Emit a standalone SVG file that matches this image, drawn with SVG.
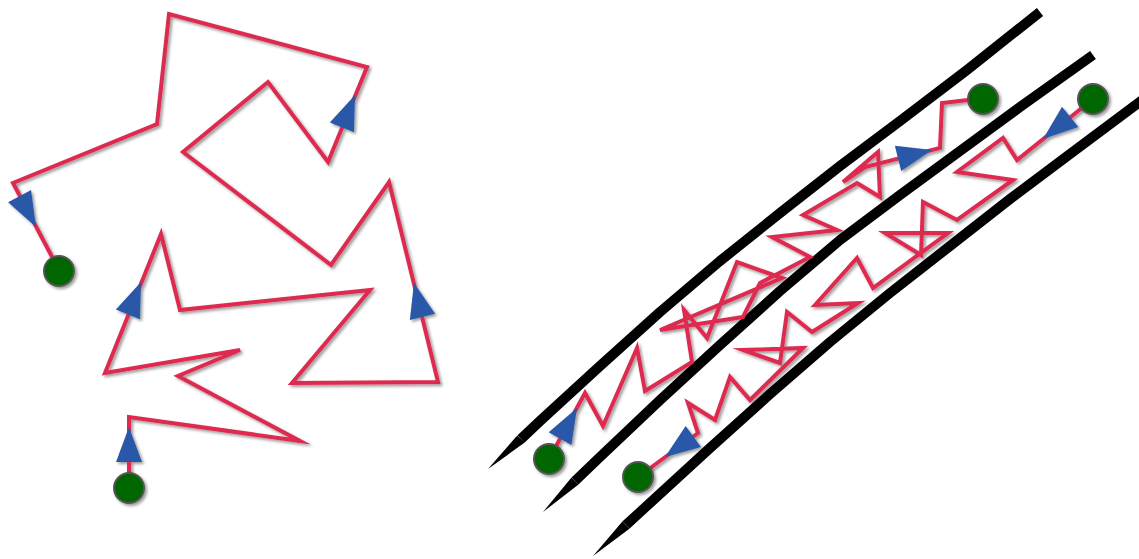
<svg xmlns="http://www.w3.org/2000/svg" xmlns:xlink="http://www.w3.org/1999/xlink" width="1139" height="559" viewBox="0 0 1139 559">
<style>
.walk{fill:none;stroke:#DE2A4F;stroke-width:4;stroke-linejoin:miter;stroke-miterlimit:6}
.wall{fill:none;stroke:#000;stroke-width:10;stroke-linejoin:round;stroke-linecap:butt}
.taper{fill:#000;stroke:none}
.dot{fill:#006600;stroke:#555;stroke-width:2}
.arrow{fill:#2A58A8}
</style>
<defs>
<filter id="sh" x="-20%" y="-20%" width="140%" height="140%">
<feDropShadow dx="2" dy="2" stdDeviation="1.5" flood-color="#000" flood-opacity="0.4"/>
</filter>
<polygon id="arr" points="0,0 -35,-13 -35,13"/>
</defs>
<rect width="1139" height="559" fill="#fff"/>

<g id="walls">
<path class="wall" d="M521,439 L540,421 L600,366 L660,312 L720,261 L780,213 L840,166 L900,121 L967,70 L1040,12"/>
<polygon class="taper" points="488,469 524.7,442.6 517.3,435.4"/>
<path class="wall" d="M575,481 L600,457 L660,400 L720,345 L780,291 L840,240 L900,195 L960,151 L1020,107 L1093,55"/>
<polygon class="taper" points="543,512 578.5,484.6 571.5,477.4"/>
<path class="wall" d="M626,525 L650,503 L710,448 L770,394 L830,342 L890,293 L950,246 L1010,199 L1070,154 L1145,98"/>
<polygon class="taper" points="593,556 629.4,528.7 622.6,521.3"/>
</g>

<g id="connectors" filter="url(#sh)">
<path id="walk-left" class="walk" d="M129,488 L129,417 L300,441 L178,376 L240,350 L105,373 L161,234 L180,310 L370,290 L292,383 L438,382 L389,182 L331,265 L183,152 L268,82 L328,162 L367,67 L169,14 L157,124 L13,183 L59,270"/>
<path id="walk-channel-a" class="walk" d="M549,459 L585,393 L603,426 L637,348 L645,391 L692,362 L684,310 L707,338 L737,262 L782,278 L660,330 L743,317 L760,283 L810,257 L772,237 L837,230 L803,215 L857,183 L880,197 L878,152 L843,182 L865,167 L940,148 L942,103 L968,100 L983,99"/>
<path id="walk-channel-b" class="walk" d="M1093,99 L1017,160 L1003,138 L957,172 L1013,180 L957,220 L923,202 L921,255 L885,233 L948,233 L873,288 L857,258 L815,305 L858,303 L812,332 L787,312 L780,363 L743,350 L803,348 L750,400 L730,377 L715,420 L688,403 L698,433 L638,477"/>
<g id="arrows" class="arrow">
<use xlink:href="#arr" transform="translate(129,427) rotate(-90)"/>
<use xlink:href="#arr" transform="translate(141,282) rotate(-68)"/>
<use xlink:href="#arr" transform="translate(414,283) rotate(-104)"/>
<use xlink:href="#arr" transform="translate(355,95) rotate(-68)"/>
<use xlink:href="#arr" transform="translate(36,227) rotate(62)"/>
<use xlink:href="#arr" transform="translate(577,408) rotate(-61)"/>
<use xlink:href="#arr" transform="translate(932,150) rotate(-14)"/>
<use xlink:href="#arr" transform="translate(1043,139) rotate(141)"/>
<use xlink:href="#arr" transform="translate(665,457) rotate(144)"/>
</g>
</g>

<g filter="url(#sh)">
<g id="start-left"><circle class="dot" cx="129" cy="488" r="15"/></g>
<g id="end-left"><circle class="dot" cx="59" cy="271" r="15"/></g>
<g id="start-a"><circle class="dot" cx="549" cy="459" r="15"/></g>
<g id="end-a"><circle class="dot" cx="983" cy="99" r="15"/></g>
<g id="start-b"><circle class="dot" cx="1093" cy="99" r="15"/></g>
<g id="end-b"><circle class="dot" cx="638" cy="477" r="15"/></g>
</g>
</svg>
